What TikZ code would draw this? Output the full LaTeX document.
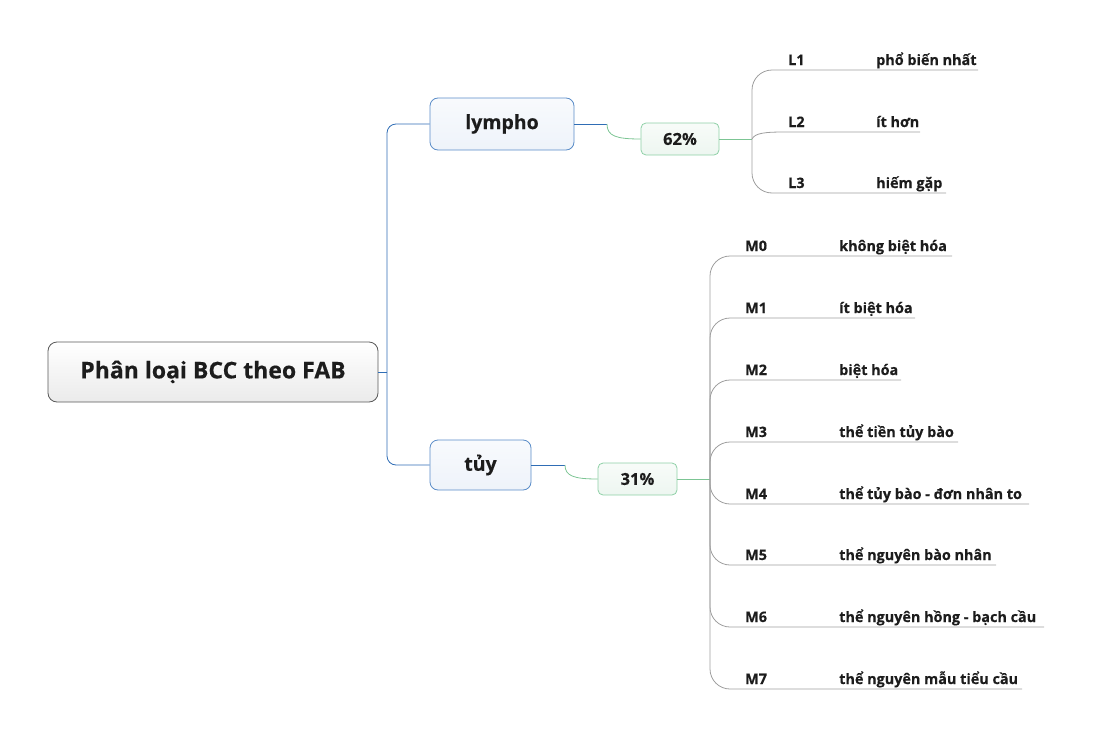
\documentclass[tikz,border=0pt]{standalone}
\usepackage{fontspec}
\setmainfont{Open Sans}[BoldFeatures={FakeBold=0.4}]
\definecolor{blueline}{HTML}{2F6DB5}
\definecolor{blueedge}{HTML}{5A8CC8}
\definecolor{bluefill}{HTML}{EEF3FA}
\definecolor{greenline}{HTML}{7CC594}
\definecolor{greenedge}{HTML}{8ED0A6}
\definecolor{greenfill}{HTML}{EDF6F0}
\definecolor{leafline}{HTML}{9E9E9E}
\definecolor{ink}{HTML}{1C1C1C}
\begin{document}
\begin{tikzpicture}[x=1pt,y=-1pt,
  rootbox/.style={draw=black!65, line width=0.8pt, rounded corners=9pt, top color=white, bottom color=black!8,
    minimum width=330pt, minimum height=60pt, inner sep=0, text=ink, font=\fontsize{23}{27}\selectfont\bfseries},
  mainbox/.style={draw=blueedge, line width=0.8pt, rounded corners=8pt, top color=bluefill!40, bottom color=bluefill,
    inner sep=0, text=ink, font=\fontsize{19.5}{23}\selectfont\bfseries},
  pctbox/.style={draw=greenedge, line width=0.8pt, rounded corners=5pt, top color=greenfill!40, bottom color=greenfill,
    minimum height=32pt, inner sep=0, text=ink, font=\fontsize{16.5}{19}\selectfont\bfseries},
  lab/.style={anchor=base west, inner sep=0, text=ink, font=\fontsize{14.4}{17}\selectfont\bfseries},
  bluecon/.style={draw=blueline, line width=0.8pt},
  greencon/.style={draw=greenline, line width=0.8pt},
  leafcon/.style={draw=leafline, line width=0.8pt},
]
\path[use as bounding box] (0,0) rectangle (1093,744);

% main nodes
\node[rootbox] (root) at (213,372) {Phân loại BCC theo FAB};
\node[mainbox, minimum width=144pt, minimum height=52pt] (lympho) at (502,124) {lympho};
\node[mainbox, minimum width=101pt, minimum height=50pt] (tuy) at (480.5,465) {tủy};
\node[pctbox, minimum width=78pt] (p62) at (680,139) {62\%};
\node[pctbox, minimum width=79pt] (p31) at (637.5,479) {31\%};

% root connectors
\coordinate (rj) at (387,372);
\draw[bluecon] (root.east) -- (rj);
\draw[bluecon, rounded corners=9pt] (rj) |- (lympho.west);
\draw[bluecon, rounded corners=9pt] (rj) |- (tuy.west);

% main -> percent connectors
\coordinate (lk) at (607,124);
\coordinate (tk) at (565,465);
\draw[bluecon] (lympho.east) -- (lk);
\draw[greencon] (lk) .. controls (607,136) and (616,139) .. (p62.west);
\draw[bluecon] (tuy.east) -- (tk);
\draw[greencon] (tk) .. controls (565,476) and (574,479) .. (p31.west);

% junctions
\coordinate (jl) at (752,139);
\coordinate (jm) at (710,479);
\draw[greencon] (p62.east) -- (jl);
\draw[greencon] (p31.east) -- (jm);

% lympho leaves
\foreach \n/\t/\y/\e in {1/phổ biến nhất/70/978, 2/ít hơn/132/920, 3/hiếm gặp/193/946}{
  \node[lab] (L\n) at (788,\y-5) {L\n};
  \node[lab] (L\n d) at (876,\y-5) {\t};
  \coordinate (L\n e) at (\e,\y);
}
\draw[leafcon, rounded corners=20pt] (jl) |- (L1e);
\draw[leafcon] (jl) .. controls (755,133) and (765,132) .. (785,132) -- (L2e);
\draw[leafcon, rounded corners=20pt] (jl) |- (L3e);

% tuy leaves
\foreach \n/\t/\y/\e in {0/không biệt hóa/256/952, 1/ít biệt hóa/318/915, 2/biệt hóa/380/901,
  3/thể tiền tủy bào/442/958, 4/thể tủy bào - đơn nhân to/504/1029, 5/thể nguyên bào nhân/565/996,
  6/thể nguyên hồng - bạch cầu/627/1044, 7/thể nguyên mẫu tiểu cầu/689/1022}{
  \node[lab] (M\n) at (745,\y-5) {M\n};
  \node[lab] (M\n d) at (839,\y-5) {\t};
  \coordinate (M\n e) at (\e,\y);
  \draw[leafcon, rounded corners=20pt] (jm) |- (M\n e);
}
\end{tikzpicture}
\end{document}
